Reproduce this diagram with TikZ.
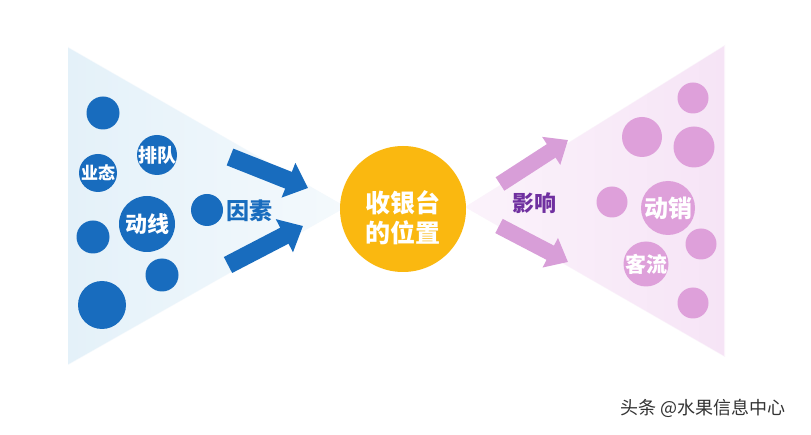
\documentclass[tikz,border=0pt]{standalone}
\usepackage{fontspec}
\usetikzlibrary{arrows.meta}
\newfontfamily\cjk{Noto Sans CJK SC}
\newfontfamily\cjkh{Noto Sans CJK SC Black}
\definecolor{cblue}{RGB}{24,108,190}
\definecolor{tblue}{RGB}{228,241,249}
\definecolor{cpink}{RGB}{222,160,218}
\definecolor{tpink}{RGB}{246,228,246}
\definecolor{apink}{RGB}{216,158,216}
\definecolor{cyell}{RGB}{250,184,16}
\definecolor{tpurp}{RGB}{112,48,160}
\begin{document}
\begin{tikzpicture}[x=1pt,y=-1pt,
  bdot/.style={circle,fill=cblue,draw=none,inner sep=0pt,minimum size=#1},
  pdot/.style={circle,fill=cpink,draw=none,inner sep=0pt,minimum size=#1},
  wlbl/.style={text=white,inner sep=0pt,font=\cjk\bfseries\fontsize{#1}{#1}\selectfont},
  barrow/.style={draw=cblue,line width=18pt,-{Triangle[width=36pt,length=21pt]}},
  parrow/.style={draw=apink,line width=16pt,-{Triangle[width=32pt,length=20pt]}}]
\useasboundingbox (0,0) rectangle (811,435);
\fill[white] (0,0) rectangle (811,435);
% triangles
\fill[tblue!40!white] (68,47) -- (346,207) -- (68,365) -- cycle;
\shade[draw=none,left color=tblue,right color=tblue!40!white] (68.5,48) -- (345,207) -- (68.5,364) -- cycle;
\fill[tpink!45!white] (725,45) -- (465,207) -- (725,357) -- cycle;
\shade[draw=none,right color=tpink,left color=tpink!45!white] (724.5,46) -- (466,207) -- (724.5,356) -- cycle;
% blue circles
\node[bdot=33pt] (b1) at (103,113) {};
\node[bdot=38pt] (b2) at (98,173) {};
\node[bdot=40pt] (b3) at (157,155) {};
\node[bdot=56pt] (b4) at (147,224) {};
\node[bdot=32pt] (b5) at (207,210) {};
\node[bdot=33pt] (b6) at (93,237) {};
\node[bdot=33pt] (b7) at (162,275) {};
\node[bdot=48pt] (b8) at (102,305) {};
\node[wlbl=17] (t2) at (b2) {业态};
\node[wlbl=19] (t3) at (b3) {排队};
\node[wlbl=22] (t4) at (b4) {动线};
\node[text=cblue,inner sep=0pt,font=\cjk\bfseries\fontsize{23}{23}\selectfont] (yinsu) at (249,211) {因素};
% blue arrows
\coordinate (a1s) at (230,157);
\coordinate (a1e) at (308,188);
\coordinate (a2s) at (228,265);
\coordinate (a2e) at (303,226);
\draw[barrow] (a1s) -- (a1e);
\draw[barrow] (a2s) -- (a2e);
% yellow circle
\node[circle,fill=cyell,inner sep=0pt,minimum size=126pt] (c) at (403,209) {};
\node[text=white,inner sep=0pt,font=\cjkh\fontsize{25}{25}\selectfont] (c1) at (403,203) {收银台};
\node[text=white,inner sep=0pt,font=\cjkh\fontsize{25}{25}\selectfont] (c2) at (403,233) {的位置};
% pink arrows
\coordinate (p1s) at (500,184);
\coordinate (p1e) at (568,140);
\coordinate (p2s) at (499,226);
\coordinate (p2e) at (568,262);
\draw[parrow] (p1s) -- (p1e);
\draw[parrow] (p2s) -- (p2e);
\node[text=tpurp,inner sep=0pt,font=\cjk\bfseries\fontsize{22}{22}\selectfont] (yx) at (534,203) {影响};
% pink circles
\node[pdot=31pt] (q1) at (693,98) {};
\node[pdot=40pt] (q2) at (642,137) {};
\node[pdot=41pt] (q3) at (694,147) {};
\node[pdot=31pt] (q4) at (612,202) {};
\node[pdot=54pt] (q5) at (668,208) {};
\node[pdot=31pt] (q6) at (701,244) {};
\node[pdot=45pt] (q7) at (646,264) {};
\node[pdot=31pt] (q8) at (693,303) {};
\node[wlbl=24] (s5) at (q5) {动销};
\node[wlbl=21] (s7) at (q7) {客流};
% watermark
\node[text=black!80,inner sep=0pt,font=\cjk\fontsize{18}{18}\selectfont] (wm) at (703,408) {头条 @水果信息中心};
\end{tikzpicture}
\end{document}
